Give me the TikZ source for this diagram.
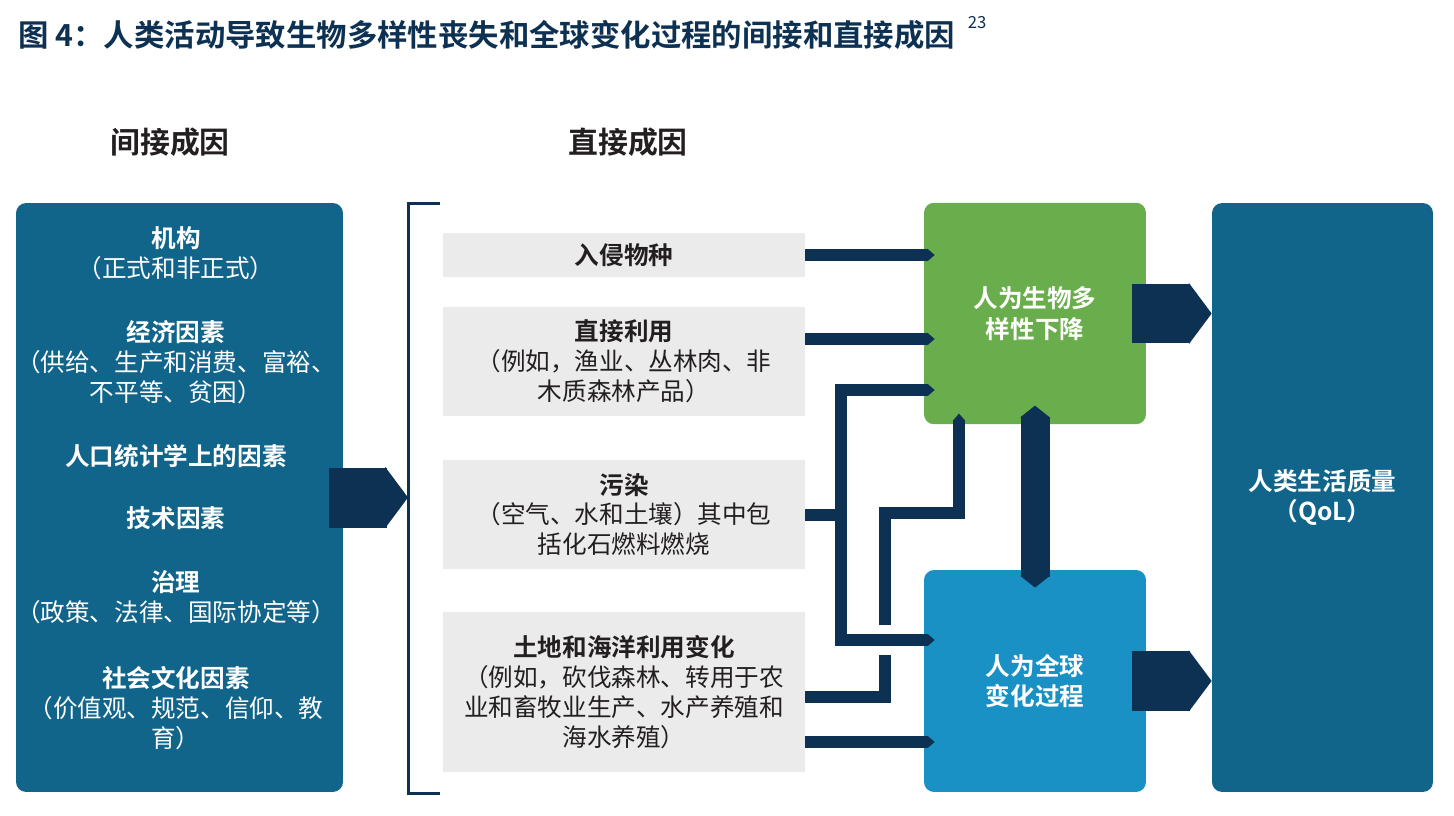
\documentclass[tikz,border=0pt]{standalone}
\usepackage{fontspec}
\setmainfont{Noto Sans CJK SC}[BoldFont={Noto Sans CJK SC Bold}]
\usetikzlibrary{arrows.meta,calc}
\definecolor{navy}{RGB}{13,49,82}
\definecolor{deepteal}{RGB}{18,101,138}
\definecolor{leafgreen}{RGB}{106,173,76}
\definecolor{seablue}{RGB}{25,145,197}
\definecolor{panelgrey}{RGB}{235,235,235}
\definecolor{inkgrey}{RGB}{35,31,32}
\begin{document}
\begin{tikzpicture}[x=0.02cm, y=-0.02cm,
	every node/.style={inner sep=0, align=center, font=\fontsize{14pt}{17pt}\selectfont},
	sidebox/.style={rectangle, rounded corners=0.2cm, fill=deepteal, minimum width=6.54cm, minimum height=11.78cm},
	driver/.style={rectangle, fill=panelgrey, minimum width=7.24cm, text=inkgrey},
	effect/.style={rectangle, rounded corners=0.2cm, minimum width=4.44cm, minimum height=4.43cm, text=white, font=\fontsize{14pt}{17.5pt}\selectfont\bfseries},
	lbl/.style={text=white},
	head/.style={text=inkgrey, font=\fontsize{17pt}{20pt}\selectfont\bfseries},
	link/.style={draw=navy, line width=0.24cm},
	conn/.style={link, -{Triangle[length=0pt 0.6, width=0pt 1]}, shorten >=-0.22cm},
	fat/.style={draw=navy, line width=1.2cm, -{Triangle[length=0pt 0.38, width=0pt 1]}}]
	\useasboundingbox (0,0) rectangle (1454,815);
	% Title
	\node[anchor=west, text=navy, font=\fontsize{17.3pt}{20pt}\selectfont\bfseries] (title) at (18,35) {图 4：人类活动导致生物多样性丧失和全球变化过程的间接和直接成因};
	\node[anchor=west, text=navy, font=\fontsize{9.5pt}{11pt}\selectfont] (note) at ([xshift=0.24cm,yshift=0.24cm]title.east) {23};
	\node[head] (indhead) at (170,142) {间接成因};
	\node[head] (dirhead) at (628,142) {直接成因};
	% Boxes
	\node[sidebox] (ind) at (179.5,497.5) {};
	\node[sidebox, minimum width=4.42cm] (qol) at (1322.5,497.5) {};
	\node[effect, fill=leafgreen] (bio) at (1035,313.5) {人为生物多\\样性下降};
	\node[effect, fill=seablue, minimum height=4.44cm] (glob) at (1035,681) {人为全球\\变化过程};
	\node[lbl, font=\fontsize{14pt}{17.5pt}\selectfont\bfseries] (qoltext) at (qol) {人类生活质量\\（QoL）};
	\node[driver, minimum height=0.88cm] (inv) at (624,255) {\textbf{入侵物种}};
	\node[driver, minimum height=2.18cm] (use) at (624,361.5) {\textbf{直接利用}\\（例如，渔业、丛林肉、非\\木质森林产品）};
	\node[driver, minimum height=2.18cm] (pol) at (624,514.5) {\textbf{污染}\\（空气、水和土壤）其中包\\括化石燃料燃烧};
	\node[driver, minimum height=3.2cm] (land) at (624,692) {\textbf{土地和海洋利用变化}\\（例如，砍伐森林、转用于农\\业和畜牧业生产、水产养殖和\\海水养殖）};
	% Indirect drivers
	\node[lbl] (inst) at (176,253) {\textbf{机构}\\（正式和非正式）};
	\node[lbl] (econ) at (176,362) {\textbf{经济因素}\\（供给、生产和消费、富裕、\\不平等、贫困）};
	\node[lbl] (demo) at (176,456) {\textbf{人口统计学上的因素}};
	\node[lbl] (tech) at (176,518) {\textbf{技术因素}};
	\node[lbl] (gov) at (176,597) {\textbf{治理}\\（政策、法律、国际协定等）};
	\node[lbl] (cult) at (176,708) {\textbf{社会文化因素}\\（价值观、规范、信仰、教\\育）};
	% Bracket
	\draw[navy, line width=0.06cm] (440,203) -- (408,203) -- (408,793) -- (440,793);
	\coordinate (brk) at (408,497.5);
	\path (pol.east) ++(36,0) coordinate (split);
	\coordinate (jumplo) at (885,655);
	\coordinate (jumphi) at (885,625);
	\coordinate (rise) at (959,513);
	% Arrows
	\draw[fat] ([xshift=-0.28cm]ind.east) -- (ind.east -| brk);
	\draw[fat] ([xshift=-0.28cm]bio.east) -- (bio.east -| qol.west);
	\draw[fat] ([xshift=-0.28cm]glob.east) -- (glob.east -| qol.west);
	\draw[navy, line width=0.58cm, {Triangle[length=0pt 0.41, width=0pt 1]}-{Triangle[length=0pt 0.41, width=0pt 1]}] ([yshift=0.38cm]bio.south) -- ([yshift=-0.36cm]glob.north);
	\draw[conn] (inv.east) -- (inv.east -| bio.west);
	\draw[conn] ([yshift=0.45cm]use.east) -- ([yshift=0.45cm]use.east -| bio.west);
	\draw[link] ([yshift=-0.1cm]land.east) -| (jumplo);
	\draw[conn] (jumphi) |- (rise) -- (rise |- bio.south);
	\draw[link, {Triangle[length=0pt 0.6, width=0pt 1]}-{Triangle[length=0pt 0.6, width=0pt 1]}, shorten <=-0.22cm, shorten >=-0.22cm] ([yshift=-1.53cm]bio.west) -| (split) |- ([yshift=0.82cm]glob.west);
	\draw[link] (pol.east) -- (split);
	\draw[conn] ([yshift=-1cm]land.east) -- ([yshift=-1cm]land.east -| glob.west);
\end{tikzpicture}
\end{document}
